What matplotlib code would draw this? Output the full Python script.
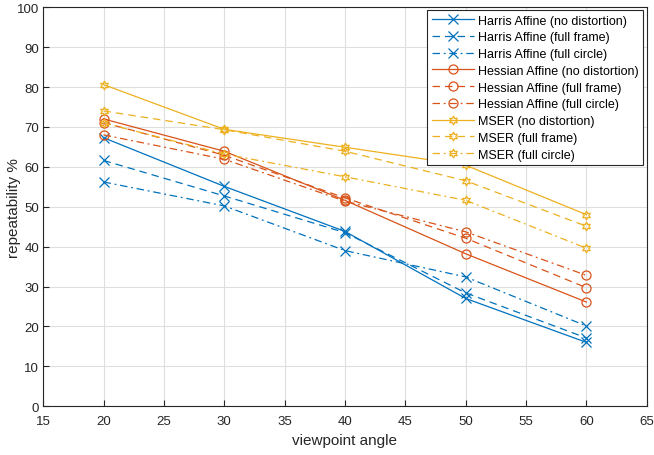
import matplotlib.pyplot as plt

angles = [20, 30, 40, 50, 60]

harris_none = [67.3, 55.1, 43.8, 27.0, 16.0]
harris_frame = [61.6, 52.7, 43.5, 28.4, 17.1]
harris_circle = [56.2, 50.2, 39.0, 32.4, 20.1]
hessian_none = [72.0, 63.9, 51.6, 38.2, 26.1]
hessian_frame = [71.1, 62.9, 52.2, 42.1, 29.7]
hessian_circle = [68.0, 61.9, 51.4, 43.7, 32.8]
mser_none = [80.6, 69.4, 64.9, 60.4, 48.0]
mser_frame = [74.0, 69.3, 63.9, 56.5, 45.1]
mser_circle = [71.0, 63.2, 57.5, 51.6, 39.6]

series = [
    ("Harris Affine (no distortion)", harris_none, "#0072BD", "-", "x"),
    ("Harris Affine (full frame)", harris_frame, "#0072BD", (0, (6, 4)), "x"),
    ("Harris Affine (full circle)", harris_circle, "#0072BD", (0, (6, 3, 1.5, 3)), "x"),
    ("Hessian Affine (no distortion)", hessian_none, "#D95319", "-", "o"),
    ("Hessian Affine (full frame)", hessian_frame, "#D95319", (0, (6, 4)), "o"),
    ("Hessian Affine (full circle)", hessian_circle, "#D95319", (0, (6, 3, 1.5, 3)), "o"),
    ("MSER (no distortion)", mser_none, "#EDB120", "-", (6, 1, 0)),
    ("MSER (full frame)", mser_frame, "#EDB120", (0, (6, 4)), (6, 1, 0)),
    ("MSER (full circle)", mser_circle, "#EDB120", (0, (6, 3, 1.5, 3)), (6, 1, 0)),
]

plt.rcParams["font.family"] = ["Liberation Sans", "DejaVu Sans"]

fig = plt.figure(figsize=(6.54, 4.56), dpi=100)
ax = fig.add_axes([0.066, 0.107, 0.923, 0.875])

for label, values, color, ls, marker in series:
    ax.plot(angles, values, color=color, linestyle=ls, linewidth=0.9,
            marker=marker, markersize=6.5, markerfacecolor="none",
            markeredgecolor=color, markeredgewidth=0.9, label=label)

ax.set_xlim(15, 65)
ax.set_ylim(0, 100)
ax.set_xticks(range(15, 66, 5))
ax.set_yticks(range(0, 101, 10))
ax.grid(True, color="#dedede", linewidth=0.8)
ax.set_axisbelow(True)
ax.tick_params(direction="in", labelsize=9.5, colors="#262626", length=4, pad=3)
ax.tick_params(axis="x", pad=6)
for side in ax.spines.values():
    side.set_color("#262626")
    side.set_linewidth(0.8)
ax.set_xlabel("viewpoint angle", fontsize=11, color="#262626")
ax.set_ylabel("repeatability %", fontsize=11, color="#262626")
ax.xaxis.set_label_coords(0.5, -0.066)
ax.yaxis.set_label_coords(-0.036, 0.5)

leg = ax.legend(loc="upper right", fontsize=9, handlelength=3.4,
                labelspacing=0.38, borderpad=0.35, handletextpad=0.3,
                borderaxespad=0, fancybox=False, framealpha=1,
                bbox_to_anchor=(0.9934, 0.9925))
leg.get_frame().set_edgecolor("#262626")
leg.get_frame().set_linewidth(0.8)

fig.savefig("out.png", dpi=100)
